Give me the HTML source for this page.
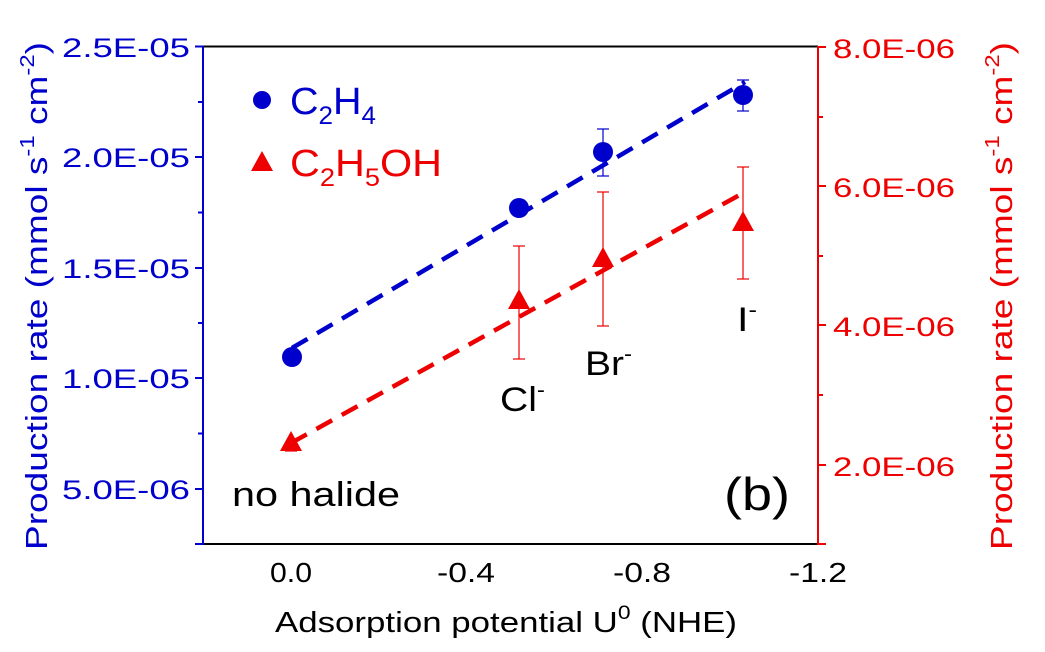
<!DOCTYPE html>
<html><head><meta charset="utf-8"><style>
html,body{margin:0;padding:0;background:#fff;}
svg{display:block;font-family:"Liberation Sans",Arial,sans-serif;}
</style></head><body>
<svg width="1045" height="652" viewBox="0 0 1045 652" xmlns="http://www.w3.org/2000/svg">
<rect width="1045" height="652" fill="#fff"/>
<line x1="203" y1="46.5" x2="818" y2="46.5" stroke="#000" stroke-width="2"/>
<line x1="203" y1="544" x2="818" y2="544" stroke="#000" stroke-width="2"/>
<line x1="203" y1="46" x2="203" y2="545" stroke="#00c" stroke-width="2"/>
<line x1="818" y1="46" x2="818" y2="545" stroke="#e00" stroke-width="2"/>
<g stroke="#00c" stroke-width="2">
<line x1="195" y1="46.5" x2="203" y2="46.5"/><line x1="198" y1="102" x2="203" y2="102"/>
<line x1="195" y1="157" x2="203" y2="157"/><line x1="198" y1="212.5" x2="203" y2="212.5"/>
<line x1="195" y1="268" x2="203" y2="268"/><line x1="198" y1="323" x2="203" y2="323"/>
<line x1="195" y1="378" x2="203" y2="378"/><line x1="198" y1="433.5" x2="203" y2="433.5"/>
<line x1="195" y1="489" x2="203" y2="489"/><line x1="195" y1="544" x2="203" y2="544"/>
</g>
<g fill="#00c" font-size="27" lengthAdjust="spacingAndGlyphs">
<text x="62" y="57" textLength="128" lengthAdjust="spacingAndGlyphs">2.5E-05</text>
<text x="62" y="167" textLength="128" lengthAdjust="spacingAndGlyphs">2.0E-05</text>
<text x="62" y="278" textLength="128" lengthAdjust="spacingAndGlyphs">1.5E-05</text>
<text x="62" y="388" textLength="128" lengthAdjust="spacingAndGlyphs">1.0E-05</text>
<text x="62" y="499" textLength="128" lengthAdjust="spacingAndGlyphs">5.0E-06</text>
</g>
<g stroke="#e00" stroke-width="2">
<line x1="818" y1="47" x2="826" y2="47"/><line x1="818" y1="117" x2="823" y2="117"/>
<line x1="818" y1="186" x2="826" y2="186"/><line x1="818" y1="256" x2="823" y2="256"/>
<line x1="818" y1="325" x2="826" y2="325"/><line x1="818" y1="395" x2="823" y2="395"/>
<line x1="818" y1="465" x2="826" y2="465"/><line x1="818" y1="544" x2="826" y2="544"/>
</g>
<g fill="#e00" font-size="27">
<text x="833" y="58" textLength="122" lengthAdjust="spacingAndGlyphs">8.0E-06</text>
<text x="833" y="197" textLength="122" lengthAdjust="spacingAndGlyphs">6.0E-06</text>
<text x="833" y="336" textLength="122" lengthAdjust="spacingAndGlyphs">4.0E-06</text>
<text x="833" y="476" textLength="122" lengthAdjust="spacingAndGlyphs">2.0E-06</text>
</g>
<g fill="#000" font-size="28">
<text x="270" y="582" textLength="42" lengthAdjust="spacingAndGlyphs">0.0</text>
<text x="437" y="582" textLength="58" lengthAdjust="spacingAndGlyphs">-0.4</text>
<text x="613" y="582" textLength="58" lengthAdjust="spacingAndGlyphs">-0.8</text>
<text x="789" y="582" textLength="58" lengthAdjust="spacingAndGlyphs">-1.2</text>
</g>
<text x="275" y="632" font-size="29" fill="#000" textLength="462" lengthAdjust="spacingAndGlyphs">Adsorption potential U<tspan font-size="19" dy="-13">0</tspan><tspan dy="13"> (NHE)</tspan></text>
<text transform="translate(47,550) rotate(-90)" font-size="31" fill="#00c" textLength="508" lengthAdjust="spacingAndGlyphs">Production rate (mmol s<tspan font-size="20" dy="-13">-1</tspan><tspan dy="13"> cm</tspan><tspan font-size="20" dy="-13">-2</tspan><tspan dy="13">)</tspan></text>
<text transform="translate(1012,550) rotate(-90)" font-size="31" fill="#e00" textLength="508" lengthAdjust="spacingAndGlyphs">Production rate (mmol s<tspan font-size="20" dy="-13">-1</tspan><tspan dy="13"> cm</tspan><tspan font-size="20" dy="-13">-2</tspan><tspan dy="13">)</tspan></text>
<line x1="292" y1="348" x2="745" y2="82" stroke="#00c" stroke-width="4.5" stroke-dasharray="18,11"/>
<line x1="291" y1="443" x2="745" y2="192" stroke="#e00" stroke-width="4.5" stroke-dasharray="18,11"/>
<g stroke="#00c" stroke-width="1.2">
<line x1="603" y1="129" x2="603" y2="176"/><line x1="597" y1="129" x2="609" y2="129"/><line x1="597" y1="176" x2="609" y2="176"/>
<line x1="743" y1="80" x2="743" y2="111"/><line x1="737" y1="80" x2="749" y2="80"/><line x1="737" y1="111" x2="749" y2="111"/>
</g>
<g stroke="#e00" stroke-width="1.2">
<line x1="519" y1="246" x2="519" y2="359"/><line x1="513" y1="246" x2="525" y2="246"/><line x1="513" y1="359" x2="525" y2="359"/>
<line x1="603" y1="192" x2="603" y2="326"/><line x1="597" y1="192" x2="609" y2="192"/><line x1="597" y1="326" x2="609" y2="326"/>
<line x1="743" y1="167" x2="743" y2="279"/><line x1="737" y1="167" x2="749" y2="167"/><line x1="737" y1="279" x2="749" y2="279"/>
<line x1="285" y1="451" x2="297" y2="451"/>
</g>
<g fill="#00c">
<circle cx="292" cy="357" r="10"/><circle cx="519" cy="208" r="10"/>
<circle cx="603" cy="152" r="10"/><circle cx="743" cy="95" r="10"/>
<circle cx="262" cy="100" r="9"/>
</g>
<g fill="#e00">
<polygon points="291,431 302,451 280,451"/>
<polygon points="519,289 530,309 508,309"/>
<polygon points="603,247 614,267 592,267"/>
<polygon points="743,211 754,231 732,231"/>
<polygon points="262,151 273,171 251,171"/>
</g>
<text x="290" y="114" font-size="38" fill="#00c" textLength="86" lengthAdjust="spacingAndGlyphs">C<tspan font-size="25" dy="10">2</tspan><tspan dy="-10">H</tspan><tspan font-size="25" dy="10">4</tspan></text>
<text x="290" y="176" font-size="38" fill="#e00" textLength="152" lengthAdjust="spacingAndGlyphs">C<tspan font-size="25" dy="10">2</tspan><tspan dy="-10">H</tspan><tspan font-size="25" dy="10">5</tspan><tspan dy="-10">OH</tspan></text>
<text x="232" y="506" font-size="34" fill="#000" textLength="168" lengthAdjust="spacingAndGlyphs">no halide</text>
<text x="724" y="510" font-size="46" fill="#000" textLength="66" lengthAdjust="spacingAndGlyphs">(b)</text>
<text x="500" y="411" font-size="34" fill="#000" textLength="45" lengthAdjust="spacingAndGlyphs">Cl<tspan font-size="21" dy="-14">-</tspan></text>
<text x="585" y="375" font-size="34" fill="#000" textLength="47" lengthAdjust="spacingAndGlyphs">Br<tspan font-size="21" dy="-14">-</tspan></text>
<text x="737" y="331" font-size="34" fill="#000" textLength="20" lengthAdjust="spacingAndGlyphs">I<tspan font-size="21" dy="-14">-</tspan></text>
</svg>
</body></html>
